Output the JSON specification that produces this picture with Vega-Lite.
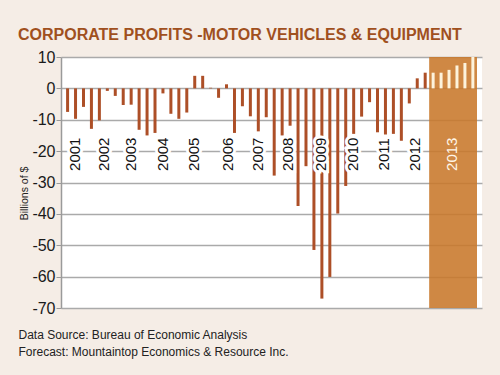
{
  "$schema": "https://vega.github.io/schema/vega-lite/v6.json",
  "width": 421,
  "height": 251,
  "autosize": {"type": "none"},
  "padding": {"left": 61, "top": 57, "right": 18, "bottom": 67},
  "background": "#f5ede6",
  "title": {
    "text": "CORPORATE PROFITS -MOTOR VEHICLES & EQUIPMENT",
    "anchor": "start",
    "frame": "group",
    "font": "Liberation Sans",
    "fontSize": 16,
    "fontWeight": "bold",
    "color": "#a0501e",
    "dx": -43,
    "dy": 26,
    "offset": 19,
    "baseline": "alphabetic"
  },
  "datasets": {
    "profits": [
      {"t": 2001.0, "value": -7.5, "type": "actual"},
      {"t": 2001.25, "value": -9.7, "type": "actual"},
      {"t": 2001.5, "value": -5.9, "type": "actual"},
      {"t": 2001.75, "value": -12.9, "type": "actual"},
      {"t": 2002.0, "value": -10.2, "type": "actual"},
      {"t": 2002.25, "value": -0.8, "type": "actual"},
      {"t": 2002.5, "value": -2.4, "type": "actual"},
      {"t": 2002.75, "value": -5.3, "type": "actual"},
      {"t": 2003.0, "value": -5.2, "type": "actual"},
      {"t": 2003.25, "value": -13.2, "type": "actual"},
      {"t": 2003.5, "value": -15.0, "type": "actual"},
      {"t": 2003.75, "value": -14.2, "type": "actual"},
      {"t": 2004.0, "value": -1.6, "type": "actual"},
      {"t": 2004.25, "value": -8.1, "type": "actual"},
      {"t": 2004.5, "value": -9.7, "type": "actual"},
      {"t": 2004.75, "value": -7.7, "type": "actual"},
      {"t": 2005.0, "value": 4.0, "type": "actual"},
      {"t": 2005.25, "value": 4.0, "type": "actual"},
      {"t": 2005.5, "value": 0.2, "type": "actual"},
      {"t": 2005.75, "value": -3.0, "type": "actual"},
      {"t": 2006.0, "value": 1.3, "type": "actual"},
      {"t": 2006.25, "value": -14.2, "type": "actual"},
      {"t": 2006.5, "value": -5.7, "type": "actual"},
      {"t": 2006.75, "value": -8.9, "type": "actual"},
      {"t": 2007.0, "value": -13.7, "type": "actual"},
      {"t": 2007.25, "value": -9.2, "type": "actual"},
      {"t": 2007.5, "value": -27.8, "type": "actual"},
      {"t": 2007.75, "value": -15.0, "type": "actual"},
      {"t": 2008.0, "value": -11.9, "type": "actual"},
      {"t": 2008.25, "value": -37.5, "type": "actual"},
      {"t": 2008.5, "value": -24.8, "type": "actual"},
      {"t": 2008.75, "value": -51.5, "type": "actual"},
      {"t": 2009.0, "value": -67.0, "type": "actual"},
      {"t": 2009.25, "value": -60.1, "type": "actual"},
      {"t": 2009.5, "value": -39.9, "type": "actual"},
      {"t": 2009.75, "value": -31.1, "type": "actual"},
      {"t": 2010.0, "value": -14.5, "type": "actual"},
      {"t": 2010.25, "value": -9.0, "type": "actual"},
      {"t": 2010.5, "value": -4.4, "type": "actual"},
      {"t": 2010.75, "value": -14.0, "type": "actual"},
      {"t": 2011.0, "value": -14.7, "type": "actual"},
      {"t": 2011.25, "value": -14.5, "type": "actual"},
      {"t": 2011.5, "value": -16.7, "type": "actual"},
      {"t": 2011.75, "value": -4.8, "type": "actual"},
      {"t": 2012.0, "value": 3.2, "type": "actual"},
      {"t": 2012.25, "value": 5.0, "type": "actual"},
      {"t": 2012.5, "value": 5.0, "type": "forecast"},
      {"t": 2012.75, "value": 5.0, "type": "forecast"},
      {"t": 2013.0, "value": 5.9, "type": "forecast"},
      {"t": 2013.25, "value": 7.3, "type": "forecast"},
      {"t": 2013.5, "value": 8.1, "type": "forecast"},
      {"t": 2013.75, "value": 10.0, "type": "forecast"}
    ],
    "period": [
      {"start": 2012.375, "end": 2013.88, "top": 10, "bottom": -70}
    ],
    "labels": [
      {"label": "2001", "pos": 2001.24, "kind": "actual"},
      {"label": "2002", "pos": 2002.13, "kind": "actual"},
      {"label": "2003", "pos": 2003.0, "kind": "actual"},
      {"label": "2004", "pos": 2003.99, "kind": "actual"},
      {"label": "2005", "pos": 2004.97, "kind": "actual"},
      {"label": "2006", "pos": 2006.04, "kind": "actual"},
      {"label": "2007", "pos": 2006.98, "kind": "actual"},
      {"label": "2008", "pos": 2007.92, "kind": "actual"},
      {"label": "2009", "pos": 2008.96, "kind": "actual"},
      {"label": "2010", "pos": 2009.98, "kind": "actual"},
      {"label": "2011", "pos": 2010.95, "kind": "actual"},
      {"label": "2012", "pos": 2011.94, "kind": "actual"},
      {"label": "2013", "pos": 2013.1, "kind": "forecast"}
    ]
  },
  "layer": [
    {
      "data": {"name": "period"},
      "mark": {"type": "rect", "color": "#c8782a", "opacity": 0.88},
      "encoding": {
        "x": {
          "field": "start",
          "type": "quantitative",
          "scale": {"domain": [2000.95, 2013.88], "nice": false, "zero": false},
          "axis": {
            "labels": false,
            "ticks": false,
            "domain": false,
            "grid": false,
            "title": ["Data Source: Bureau of Economic Analysis", "Forecast: Mountaintop Economics & Resource Inc."],
            "titleX": -43,
            "titleY": 30,
            "titleAlign": "left",
            "titleBaseline": "alphabetic",
            "titleFont": "Liberation Sans",
            "titleFontSize": 12,
            "titleFontWeight": "normal",
            "titleColor": "#222222",
            "titleLineHeight": 17
          }
        },
        "x2": {"field": "end"},
        "y": {
          "field": "top",
          "type": "quantitative",
          "scale": {"domain": [-70, 10], "nice": false, "zero": false},
          "axis": {
            "values": [-70, -60, -50, -40, -30, -20, -10, 0, 10],
            "tickCount": 20,
            "labelExpr": "toString(datum.value)",
            "labelOverlap": false,
            "labelFont": "Liberation Sans",
            "labelFontSize": 16,
            "labelColor": "#1a1a1a",
            "labelPadding": 1,
            "tickSize": 5,
            "tickColor": "#9a9a9a",
            "domainColor": "#9a9a9a",
            "domainWidth": 1.5,
            "grid": true,
            "gridColor": "#aaaaaa",
            "gridWidth": 1.5,
            "title": "Billions of $",
            "titleFont": "Liberation Sans",
            "titleFontSize": 10.5,
            "titleFontWeight": "normal",
            "titleColor": "#222222",
            "titleAngle": 270,
            "titleX": -34,
            "titleY": 136,
            "titleAlign": "center",
            "titleBaseline": "alphabetic"
          }
        },
        "y2": {"field": "bottom"}
      }
    },
    {
      "data": {"name": "profits"},
      "mark": {"type": "bar", "size": 3},
      "encoding": {
        "x": {"field": "t", "type": "quantitative"},
        "y": {"field": "value", "type": "quantitative"},
        "color": {
          "field": "type",
          "type": "nominal",
          "scale": {"domain": ["actual", "forecast"], "range": ["#ad4f27", "#fdf3dc"]},
          "legend": null
        }
      }
    },
    {
      "data": {"name": "labels"},
      "transform": [{"filter": "datum.kind === 'actual'"}],
      "mark": {"type": "text", "angle": 270, "font": "Liberation Sans", "fontSize": 15, "align": "center", "baseline": "middle", "stroke": "white", "strokeWidth": 6, "fill": "white"},
      "encoding": {
        "x": {"field": "pos", "type": "quantitative"},
        "y": {"datum": -21, "type": "quantitative"},
        "text": {"field": "label"}
      }
    },
    {
      "data": {"name": "labels"},
      "mark": {"type": "text", "angle": 270, "font": "Liberation Sans", "fontSize": 15, "align": "center", "baseline": "middle"},
      "encoding": {
        "x": {"field": "pos", "type": "quantitative"},
        "y": {"datum": -21, "type": "quantitative"},
        "text": {"field": "label"},
        "color": {"condition": {"test": "datum.kind === 'forecast'", "value": "#fff6e8"}, "value": "#111111"}
      }
    }
  ],
  "config": {
    "view": {"fill": "white", "stroke": null},
    "axis": {"labelOverlap": false}
  }
}
